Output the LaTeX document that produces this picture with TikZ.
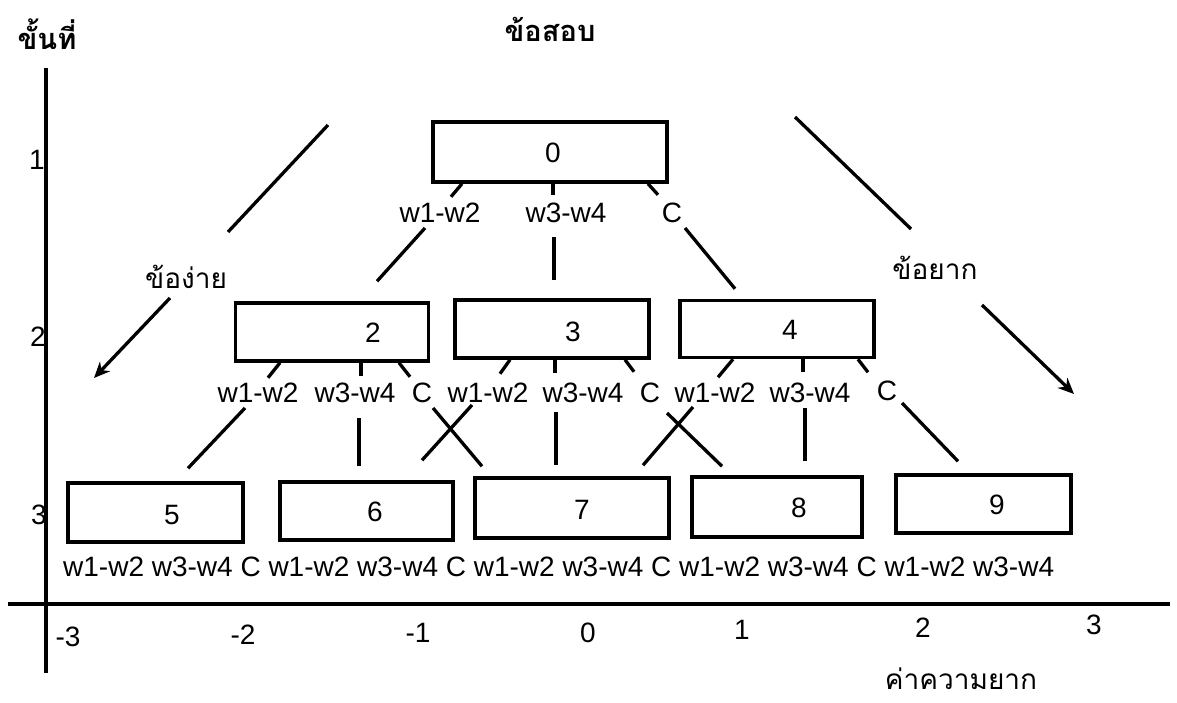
\documentclass[tikz,border=0pt]{standalone}
\usepackage{fontspec}
\setmainfont{Liberation Sans}
\newfontfamily\thaifont[Script=Thai]{Loma}
\usetikzlibrary{calc,arrows.meta}

\begin{document}
\begin{tikzpicture}[x=1pt,y=-1pt,
  box/.style 2 args={draw, line width=3.5pt, minimum width=#1, minimum height=#2, inner sep=0pt},
  lab/.style={font=\fontsize{28}{28}\selectfont, inner sep=0pt},
  thai/.style={font=\thaifont\fontsize{28}{30}\selectfont, inner sep=0pt},
  thaibold/.style={font=\thaifont\bfseries\fontsize{29}{31}\selectfont, inner sep=0pt},
  link/.style={line width=3.3pt},
  axis/.style={line width=3.2pt},
  tip/.style={line width=3.3pt, -{Stealth[length=16pt,width=14pt]}}]

\useasboundingbox (0,0) rectangle (1177,703);

% headings
\node[thaibold] (stage) at (47,34) {ขั้นที่};
\node[thaibold] (items) at (550,29) {ข้อสอบ};
\node[thai] (easy) at (186,277) {ข้อง่าย};
\node[thai] (hard) at (935,268) {ข้อยาก};
\node[thai, anchor=base] (diff) at (961,689) {ค่าความยาก};

% axes
\coordinate (ytop) at (46,68);
\coordinate (ybot) at (46,673);
\coordinate (xl) at (8,604);
\coordinate (xr) at (1170,604);
\draw[axis] (ytop) -- (ybot);
\draw[axis] (xl) -- (xr);

% stage numbers
\node[lab] (s1) at (37,160) {1};
\node[lab] (s2) at (38,337) {2};
\node[lab] (s3) at (39,515) {3};

% difficulty scale
\node[lab] (xm3) at (68,637) {-3};
\node[lab] (xm2) at (243,635) {-2};
\node[lab] (xm1) at (418,633) {-1};
\node[lab] (x0) at (588,633) {0};
\node[lab] (x1) at (742,630) {1};
\node[lab] (x2) at (923,628) {2};
\node[lab] (x3) at (1094,625) {3};

% item boxes
\node[box={234pt}{60pt}] (b0) at (550,152) {};
\node[box={193pt}{58pt}] (b2) at (332,332) {};
\node[box={194pt}{58pt}] (b3) at (552,329) {};
\node[box={194pt}{57pt}] (b4) at (777,329) {};
\node[box={175pt}{59pt}] (b5) at (155.5,512.5) {};
\node[box={173pt}{58pt}] (b6) at (366.5,511) {};
\node[box={194pt}{60pt}] (b7) at (572,508) {};
\node[box={170pt}{60pt}] (b8) at (777,507) {};
\node[box={175pt}{58pt}] (b9) at (983.5,504) {};

\node[lab] (t0) at (553,153) {0};
\node[lab] (t2) at (373,333) {2};
\node[lab] (t3) at (573,332) {3};
\node[lab] (t4) at (790,330) {4};
\node[lab] (t5) at (172,515) {5};
\node[lab] (t6) at (375,512) {6};
\node[lab] (t7) at (582,510) {7};
\node[lab] (t8) at (799,508) {8};
\node[lab] (t9) at (997,505) {9};

% branch labels, stage 1
\node[lab] (l0a) at (440,213) {w1-w2};
\node[lab] (l0b) at (566,213) {w3-w4};
\node[lab] (l0c) at (672,213) {C};

% branch labels, stage 2
\node[lab] (l2a) at (258,393) {w1-w2};
\node[lab] (l2b) at (355,393) {w3-w4};
\node[lab] (l2c) at (422,393) {C};
\node[lab] (l3a) at (488,393) {w1-w2};
\node[lab] (l3b) at (583,393) {w3-w4};
\node[lab] (l3c) at (650,393) {C};
\node[lab] (l4a) at (715,393) {w1-w2};
\node[lab] (l4b) at (810,393) {w3-w4};
\node[lab] (l4c) at (887,391) {C};

% branch labels, stage 3
\node[lab, anchor=west] (row) at (63,567) {w1-w2 w3-w4 C w1-w2 w3-w4 C w1-w2 w3-w4 C w1-w2 w3-w4 C w1-w2 w3-w4};

% short stubs under each box
\draw[link] ($(b0.south)+(-88,0)$) -- ++(-11,13);
\draw[link] ($(b0.south)+(3,0)$) -- ++(0,11);
\draw[link] ($(b0.south)+(98,0)$) -- ++(10,11);

\draw[link] ($(b2.south)+(-52,0)$) -- ++(-12,15);
\draw[link] ($(b2.south)+(29,0)$) -- ++(0,13);
\draw[link] ($(b2.south)+(67,0)$) -- ++(11,14);
\draw[link] ($(b3.south)+(-42,0)$) -- ++(-10,14);
\draw[link] ($(b3.south)+(3,0)$) -- ++(0,13);
\draw[link] ($(b3.south)+(73,0)$) -- ++(9,12);
\draw[link] ($(b4.south)+(-44,0)$) -- ++(-15,18);
\draw[link] ($(b4.south)+(26,0)$) -- ++(0,13);
\draw[link] ($(b4.south)+(81,0)$) -- ++(10,13);

% stage 1 -> stage 2
\draw[link] ($(l0a)+(-15,15)$) -- ($(b2.north)+(45,-20)$);
\draw[link] ($(l0b)+(-12,24)$) -- ($(b3.north)+(2,-18)$);
\draw[link] ($(l0c)+(13,15)$) -- ($(b4.north)+(-42,-10)$);

% stage 2 -> stage 3
\draw[link] ($(l2a)+(-13,15)$) -- ($(b5.north)+(32.5,-13)$);
\draw[link] ($(l2b)+(4,25)$) -- ($(b6.north)+(-7.5,-14)$);
\draw[link] ($(l2c)+(11,15)$) -- ($(b7.north)+(-90,-10)$);
\draw[link] ($(l3a)+(-16,12)$) -- ($(b6.north)+(55.5,-20)$);
\draw[link] ($(l3b)+(-27,19)$) -- ($(b7.north)+(-16,-11)$);
\draw[link] ($(l3c)+(17,20)$) -- ($(b8.north)+(-55,-9)$);
\draw[link] ($(l4a)+(-22,14)$) -- ($(b7.north)+(71,-11)$);
\draw[link] ($(l4b)+(-5,15)$) -- ($(b8.north)+(28,-14)$);
\draw[link] ($(l4c)+(15,12)$) -- ($(b9.north)+(-25.5,-12)$);

% spreading guides and direction arrows
\coordinate (gl1) at (328,125);
\coordinate (gl2) at (228,232);
\coordinate (gr1) at (795,117);
\coordinate (gr2) at (911,229);
\draw[link] (gl1) -- (gl2);
\draw[link] (gr1) -- (gr2);

\coordinate (ea1) at (170,298);
\coordinate (ea2) at (94,378);
\coordinate (ha1) at (982,305);
\coordinate (ha2) at (1074,394);
\draw[tip] (ea1) -- (ea2);
\draw[tip] (ha1) -- (ha2);

\end{tikzpicture}
\end{document}
